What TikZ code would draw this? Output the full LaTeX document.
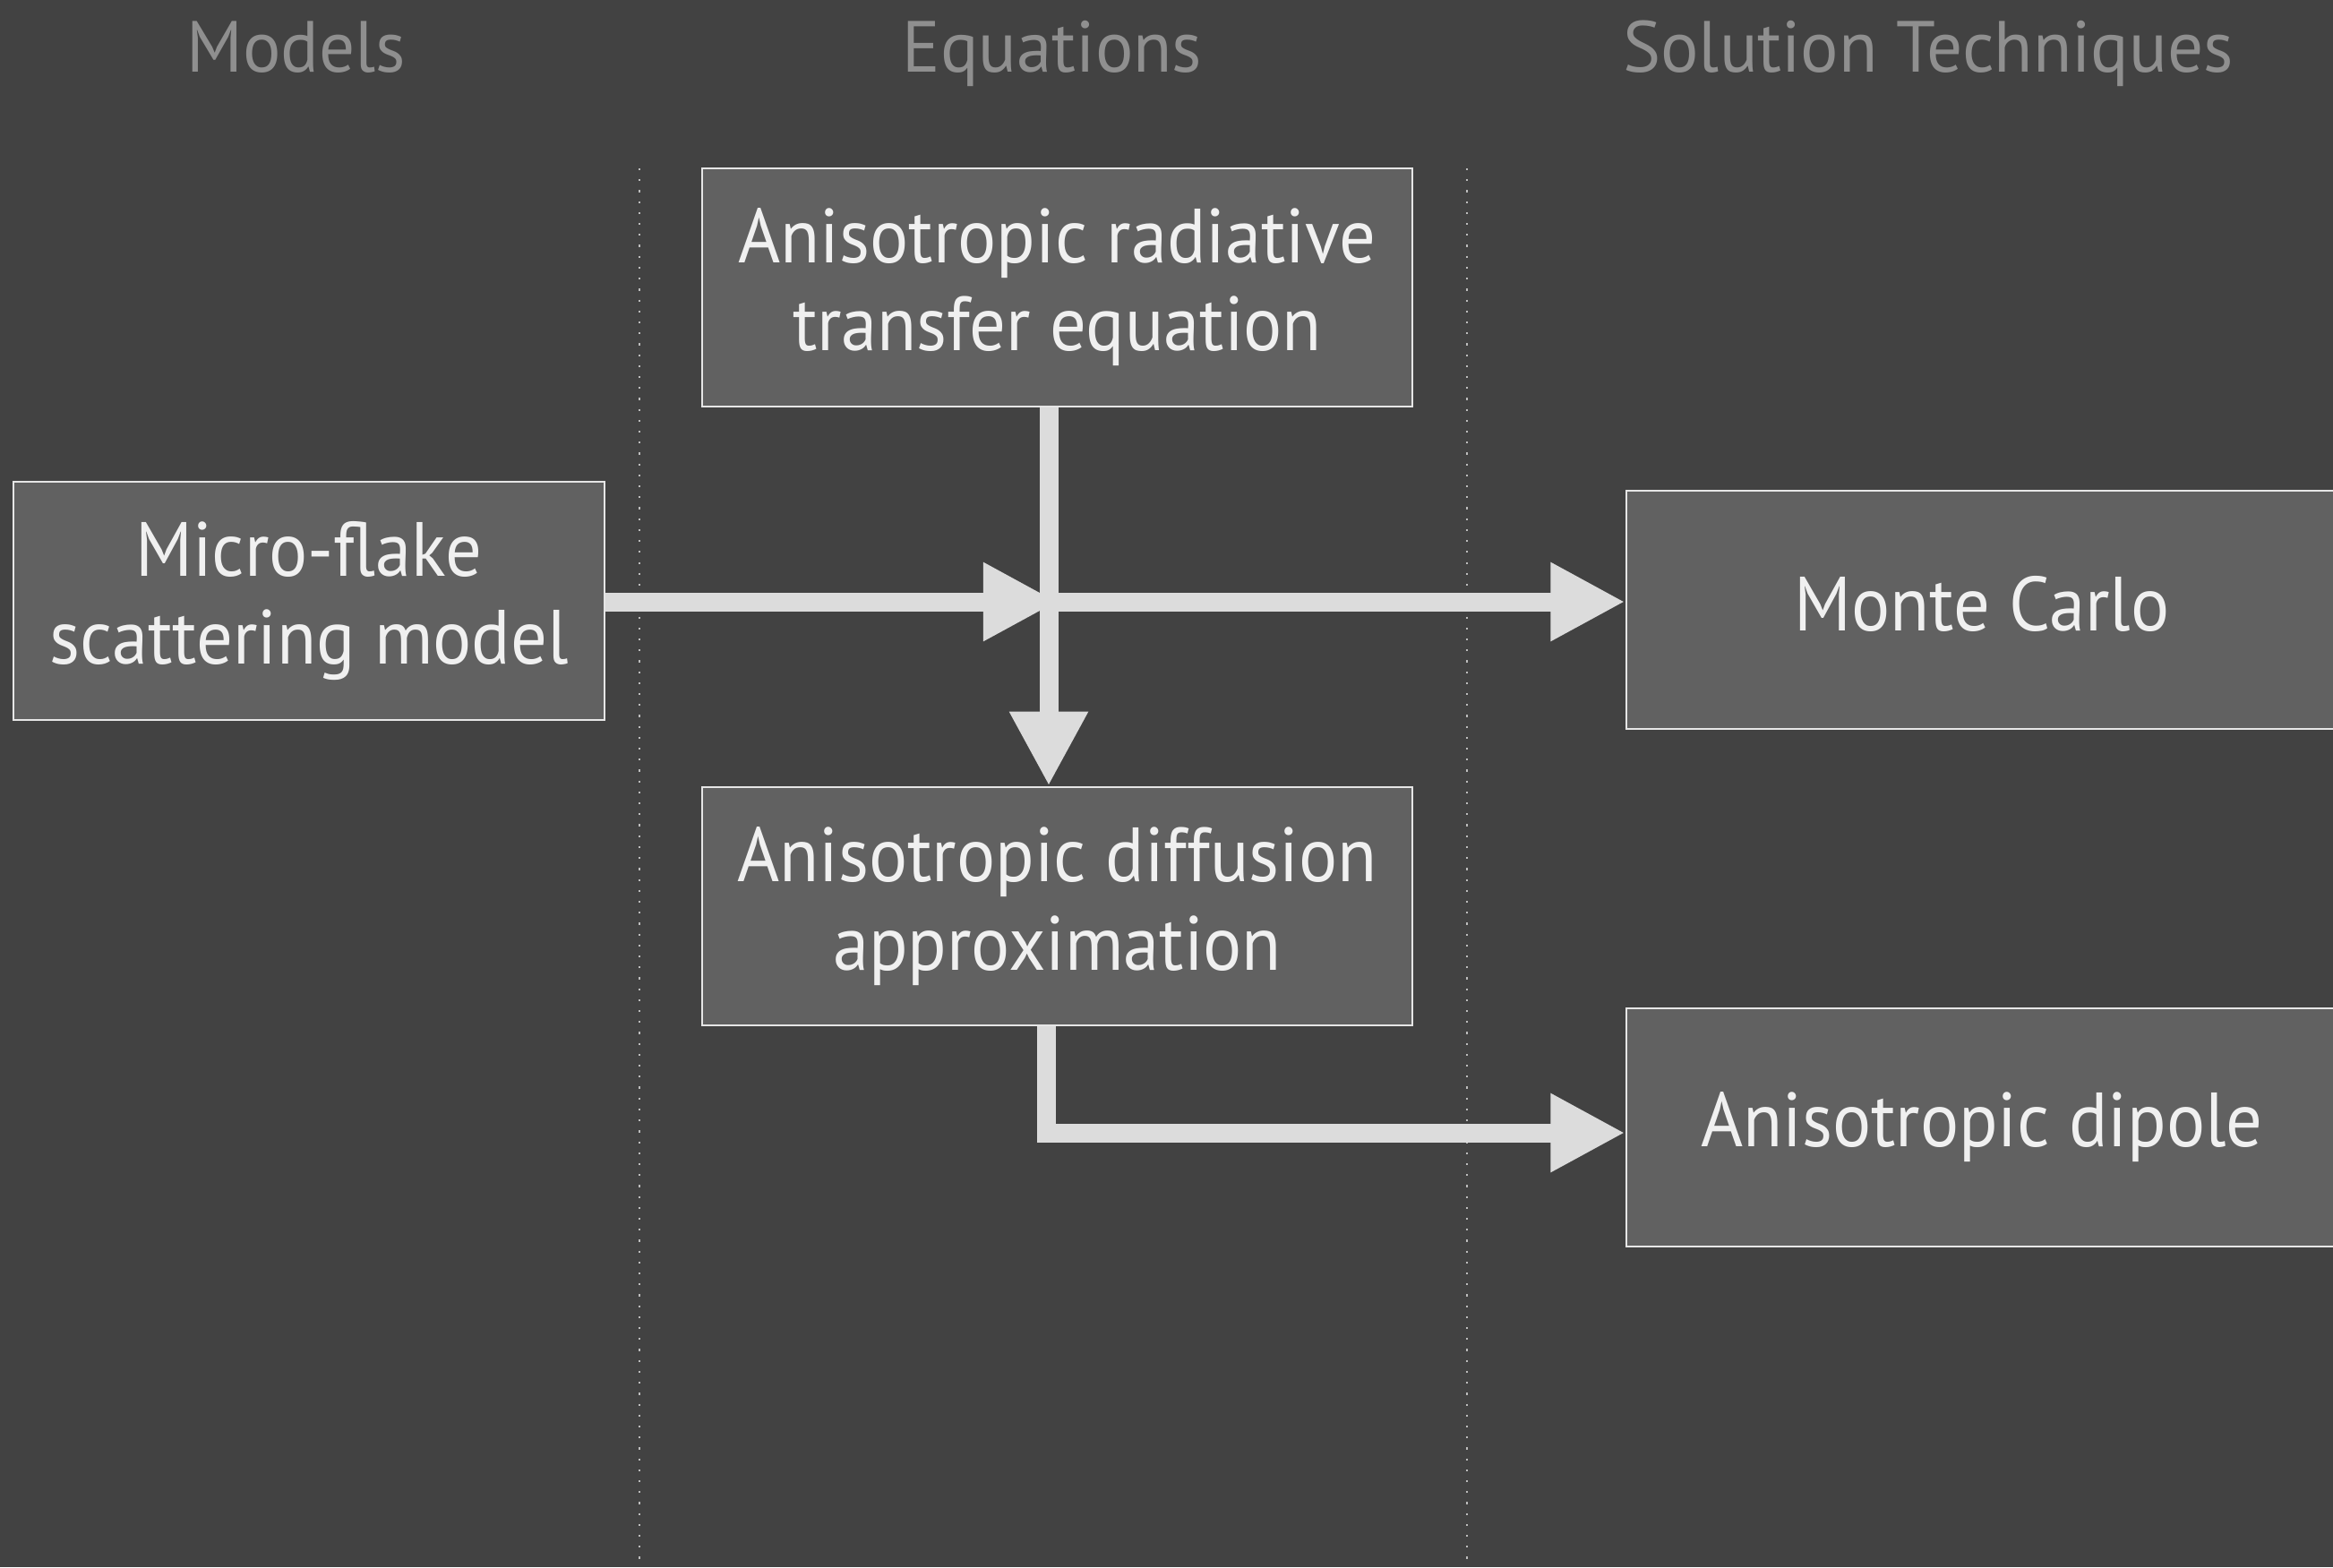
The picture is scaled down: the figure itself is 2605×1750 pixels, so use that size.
\documentclass[tikz,border=0pt]{standalone}
\usepackage{fontspec}
\setmainfont{PT Sans}
\usetikzlibrary{arrows.meta}
\definecolor{bgc}{HTML}{424242}
\definecolor{boxfill}{HTML}{616161}
\definecolor{boxline}{HTML}{E6E6E6}
\definecolor{arrowc}{HTML}{DCDCDC}
\definecolor{headc}{HTML}{8F8F8F}
\definecolor{textc}{HTML}{F0F0F0}
\definecolor{dotc}{HTML}{BDBDBD}
\begin{document}
\begin{tikzpicture}[x=0.01cm,y=-0.01cm,
  box/.style={draw=boxline, line width=0.025cm, fill=boxfill, text=textc, inner sep=0pt,
    minimum height=2.66cm, align=center, font=\fontsize{24.4}{27.9}\selectfont\addfontfeature{FakeStretch=0.94}},
  header/.style={text=headc, anchor=base, inner sep=0pt, font=\fontsize{23}{26}\selectfont\addfontfeature{FakeStretch=0.98}},
  flow/.style={draw=arrowc, line width=0.21cm, line cap=butt,
    -{Triangle[length=0.83cm,width=0.82cm]}},
  sep/.style={draw=dotc, line width=0.022cm, dash pattern=on 0.022cm off 0.1cm}]
\fill[bgc] (0,0) rectangle (2605,1750);
\useasboundingbox (0,0) rectangle (2605,1750);

% headers
\node[header] (hmod) at (331,80) {Models};
\node[header] (heq) at (1175,80) {Equations};
\node[header] (hsol) at (2153,80) {Solution Techniques};

% separators
\coordinate (s1t) at (714,188);
\coordinate (s1b) at (714,1750);
\coordinate (s2t) at (1638,188);
\coordinate (s2b) at (1638,1750);
\draw[sep] (s1t) -- (s1b);
\draw[sep] (s2t) -- (s2b);

% boxes
\node[box, minimum width=6.60cm] (mf) at (345,671) {Micro-flake\\scattering model};
\node[box, minimum width=7.93cm] (arte) at (1180.5,321) {Anisotropic radiative\\transfer equation};
\node[box, minimum width=7.93cm] (diff) at (1180.5,1012) {Anisotropic diffusion\\approximation};
\node[box, minimum width=7.94cm] (mc) at (2213,681) {\raisebox{0.07cm}[\height][\depth]{Monte Carlo}};
\node[box, minimum width=7.94cm] (dip) at (2213,1259) {Anisotropic dipole};

% connectors
\coordinate (J) at (1171,672);
\coordinate (Jr) at (1181,672);
\coordinate (E) at (1168,1265);
\draw[flow] (mf.east |- J) -- (Jr);
\draw[flow] (J) -- (mc.west |- J);
\draw[flow] (arte.south -| J) -- (diff.north -| J);
\draw[flow] (diff.south -| E) -- (E) -- (dip.west |- E);
\end{tikzpicture}
\end{document}
